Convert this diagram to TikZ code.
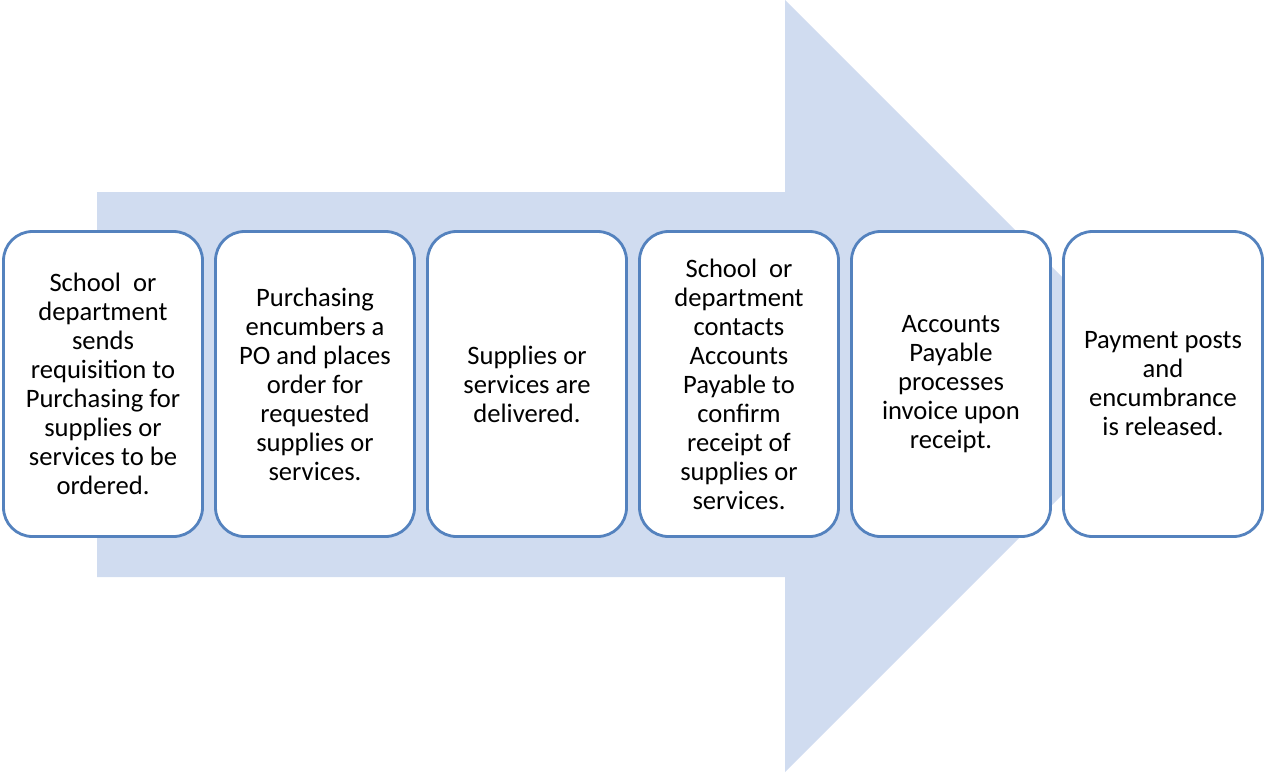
\documentclass[tikz,border=0pt]{standalone}
\usepackage{fontspec}
\setmainfont{Carlito}
\usetikzlibrary{calc}
\definecolor{arrowfill}{RGB}{208,220,240}
\definecolor{boxline}{RGB}{84,130,190}
\tikzset{stepbox/.style={draw=boxline, line width=2.8pt, fill=white, rounded corners=29pt, minimum width=199pt, minimum height=305pt, align=center, inner sep=0pt, font=\fontsize{26.6}{29}\selectfont}}

\begin{document}
\begin{tikzpicture}[x=1pt, y=-1pt]
			%%%%% START %%%%%
			
			\useasboundingbox (0, 0) rectangle (1264, 772);
			
			\fill[arrowfill] (97, 192) -- (785, 192) -- (785, 0) -- (1171, 386) -- (785, 772) -- (785, 577) -- (97, 577) -- cycle;
			
			\node[stepbox] (req) at (103, 384) {School~~or\\department\\sends\\requisition to\\Purchasing for\\supplies or\\services to be\\ordered.};
			\node[stepbox] (po) at (315, 384) {Purchasing\\encumbers a\\PO and places\\order for\\requested\\supplies or\\services.};
			\node[stepbox] (deliver) at (527, 384) {Supplies or\\services are\\delivered.};
			\node[stepbox] (confirm) at (739, 384) {School~~or\\department\\contacts\\Accounts\\Payable to\\confirm\\receipt of\\supplies or\\services.};
			\node[stepbox] (invoice) at (951, 384) {Accounts\\Payable\\processes\\invoice upon\\receipt.};
			\node[stepbox] (pay) at (1163, 384) {Payment posts\\and\\encumbrance\\is released.};
			
			%%%%% END %%%%%
\end{tikzpicture}
\end{document}
